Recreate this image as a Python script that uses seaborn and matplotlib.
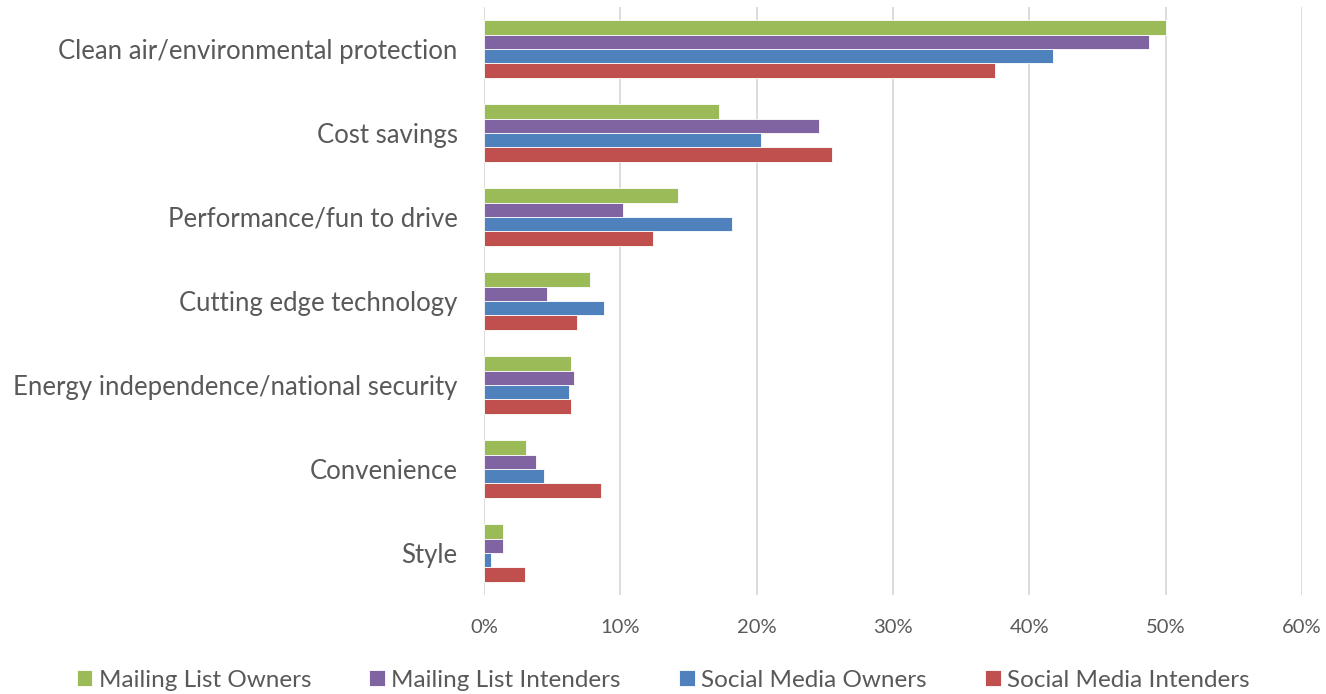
import matplotlib
matplotlib.use("Agg")
import matplotlib.pyplot as plt
from matplotlib.ticker import PercentFormatter
import seaborn as sns
import pandas as pd

categories = [
    "Clean air/environmental protection",
    "Cost savings",
    "Performance/fun to drive",
    "Cutting edge technology",
    "Energy independence/national security",
    "Convenience",
    "Style",
]
series = ["Mailing List Owners", "Mailing List Intenders",
          "Social Media Owners", "Social Media Intenders"]
mailing_owners = [50.0, 17.2, 14.2, 7.8, 6.4, 3.1, 1.4]
mailing_intenders = [48.8, 24.6, 10.2, 4.6, 6.6, 3.8, 1.4]
social_owners = [41.7, 20.3, 18.2, 8.8, 6.2, 4.4, 0.5]
social_intenders = [37.5, 25.5, 12.4, 6.8, 6.4, 8.6, 3.0]
colors = ["#9BBB59", "#8064A2", "#4F81BD", "#C0504D"]
xticks = [0, 10, 20, 30, 40, 50, 60]

values = [mailing_owners, mailing_intenders, social_owners, social_intenders]
df = pd.DataFrame(
    [(c, s, v) for s, vals in zip(series, values) for c, v in zip(categories, vals)],
    columns=["reason", "group", "pct"],
)

sns.set_theme(style="white")
plt.rcParams["font.family"] = ["Lato", "DejaVu Sans"]
text_color = "#595959"

fig = plt.figure(figsize=(13.26, 6.94), dpi=100)
ax = fig.add_axes([0.365, 0.1427, 0.617, 0.8473])

sns.barplot(data=df, y="reason", x="pct", hue="group", order=categories,
            hue_order=series, palette=colors, saturation=1, orient="h",
            width=0.68, edgecolor="white", linewidth=0.6, ax=ax)

ax.set_xlim(0, 60)
ax.set_xticks(xticks)
ax.xaxis.set_major_formatter(PercentFormatter(decimals=0))
ax.grid(axis="x", color="#D9D9D9", linewidth=1.3)
ax.set_axisbelow(True)
for side in ["top", "right", "bottom", "left"]:
    ax.spines[side].set_visible(False)
ax.set_xlabel("")
ax.set_ylabel("")
ax.tick_params(axis="x", length=0, labelsize=14.5, colors=text_color, pad=17)
ax.tick_params(axis="y", length=0, labelsize=18.5, colors=text_color, pad=19)

handles, labels = ax.get_legend_handles_labels()
ax.legend_.remove()
fig.legend(handles, labels, loc="center", bbox_to_anchor=(0.5, 0.02), ncol=4,
           frameon=False, fontsize=17.5, handlelength=0.65, handleheight=0.65,
           handletextpad=0.25, columnspacing=2.4, labelcolor=text_color)

fig.savefig("out.png", dpi=100)
